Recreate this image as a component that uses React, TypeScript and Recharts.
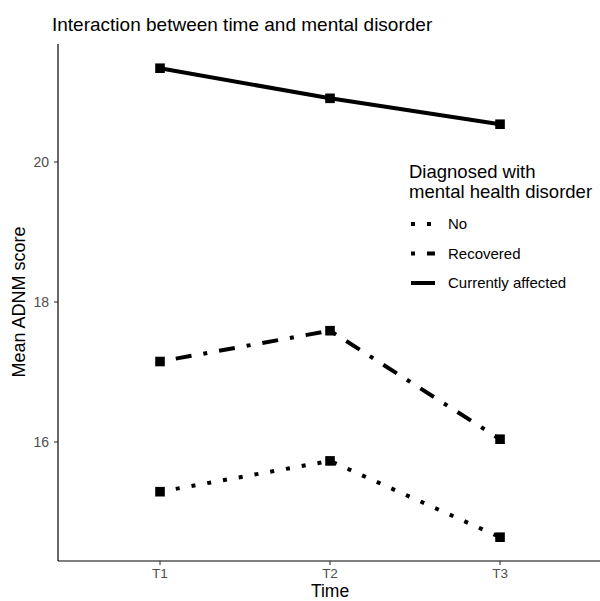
import React from "react";
import { LineChart, Line, XAxis, YAxis } from "recharts";

// time points and mean ADNM scores per group
const timeLabels = ["T1", "T2", "T3"];
const noValues = [15.29, 15.73, 14.64];
const recoveredValues = [17.15, 17.59, 16.04];
const currentValues = [21.34, 20.91, 20.54];
const yTicks = [16, 18, 20];

const legendItems = [
  { name: "No", dash: "4 12" },
  { name: "Recovered", dash: "4 12 16 12" },
  { name: "Currently affected", dash: undefined },
];

const data = timeLabels.map((t, i) => ({
  x: i + 1,
  no: noValues[i],
  recovered: recoveredValues[i],
  current: currentValues[i],
}));

const FONT = "'Liberation Sans', Arial, Helvetica, sans-serif";
const TICK_COLOR = "#4d4d4d";

const SquareDot = (props: any) => {
  const { cx, cy, index } = props;
  if (cx == null || cy == null) return null;
  return (
    <rect key={"sq" + index} x={cx - 4.8} y={cy - 4.8} width={9.6} height={9.6} fill="#000" />
  );
};

const XTick = (props: any) => {
  const { x, y, payload } = props;
  return (
    <text x={x} y={y + 10} textAnchor="middle" fontSize={13.5} fill={TICK_COLOR} fontFamily={FONT}>
      {timeLabels[payload.value - 1]}
    </text>
  );
};

const YTick = (props: any) => {
  const { x, y, payload } = props;
  return (
    <text x={x} y={y + 5} textAnchor="end" fontSize={14} fill={TICK_COLOR} fontFamily={FONT}>
      {payload.value}
    </text>
  );
};

export default function App() {
  return (
    <div
      style={{
        position: "absolute",
        left: 0,
        top: 0,
        width: 600,
        height: 601,
        background: "#fff",
        fontFamily: FONT,
      }}
    >
      <LineChart
        width={600}
        height={601}
        data={data}
        margin={{ top: 44, right: 0, bottom: 0, left: 0 }}
      >
        <XAxis
          dataKey="x"
          type="number"
          domain={[0.4, 3.588]}
          ticks={[1, 2, 3]}
          allowDataOverflow
          height={40}
          tickSize={4}
          tickMargin={3}
          axisLine={{ stroke: "#000", strokeWidth: 1.2 }}
          tickLine={{ stroke: "#333", strokeWidth: 1.1 }}
          tick={<XTick />}
        />
        <YAxis
          type="number"
          domain={[14.3, 21.686]}
          ticks={yTicks}
          allowDataOverflow
          width={58}
          tickSize={4}
          tickMargin={5}
          axisLine={{ stroke: "#000", strokeWidth: 1.2 }}
          tickLine={{ stroke: "#333", strokeWidth: 1.1 }}
          tick={<YTick />}
        />
        <Line
          dataKey="no"
          stroke="#000"
          strokeWidth={4}
          strokeDasharray="4 12"
          dot={SquareDot}
          activeDot={false}
          isAnimationActive={false}
        />
        <Line
          dataKey="recovered"
          stroke="#000"
          strokeWidth={4}
          strokeDasharray="4 12 16 12"
          dot={SquareDot}
          activeDot={false}
          isAnimationActive={false}
        />
        <Line
          dataKey="current"
          stroke="#000"
          strokeWidth={4}
          dot={SquareDot}
          activeDot={false}
          isAnimationActive={false}
        />
      </LineChart>
      <svg
        width={600}
        height={601}
        style={{ position: "absolute", left: 0, top: 0, pointerEvents: "none" }}
      >
        <text x={52} y={31} fontSize={19} fill="#000" fontFamily={FONT}>
          Interaction between time and mental disorder
        </text>
        <text
          transform="translate(25,302) rotate(-90)"
          textAnchor="middle"
          fontSize={18}
          fill="#000"
          fontFamily={FONT}
        >
          Mean ADNM score
        </text>
        <text x={330} y={597} textAnchor="middle" fontSize={17.5} fill="#000" fontFamily={FONT}>
          Time
        </text>
        <text x={409} y={178} fontSize={18.5} fill="#000" fontFamily={FONT}>
          Diagnosed with
        </text>
        <text x={409} y={198} fontSize={18.5} fill="#000" fontFamily={FONT}>
          mental health disorder
        </text>
        {legendItems.map((item, i) => {
          const base = 229 + i * 29.5;
          return (
            <g key={item.name}>
              <line
                x1={411}
                x2={435}
                y1={base - 5}
                y2={base - 5}
                stroke="#000"
                strokeWidth={4}
                strokeDasharray={item.dash}
              />
              <text x={448} y={base} fontSize={15} fill="#000" fontFamily={FONT}>
                {item.name}
              </text>
            </g>
          );
        })}
      </svg>
    </div>
  );
}
